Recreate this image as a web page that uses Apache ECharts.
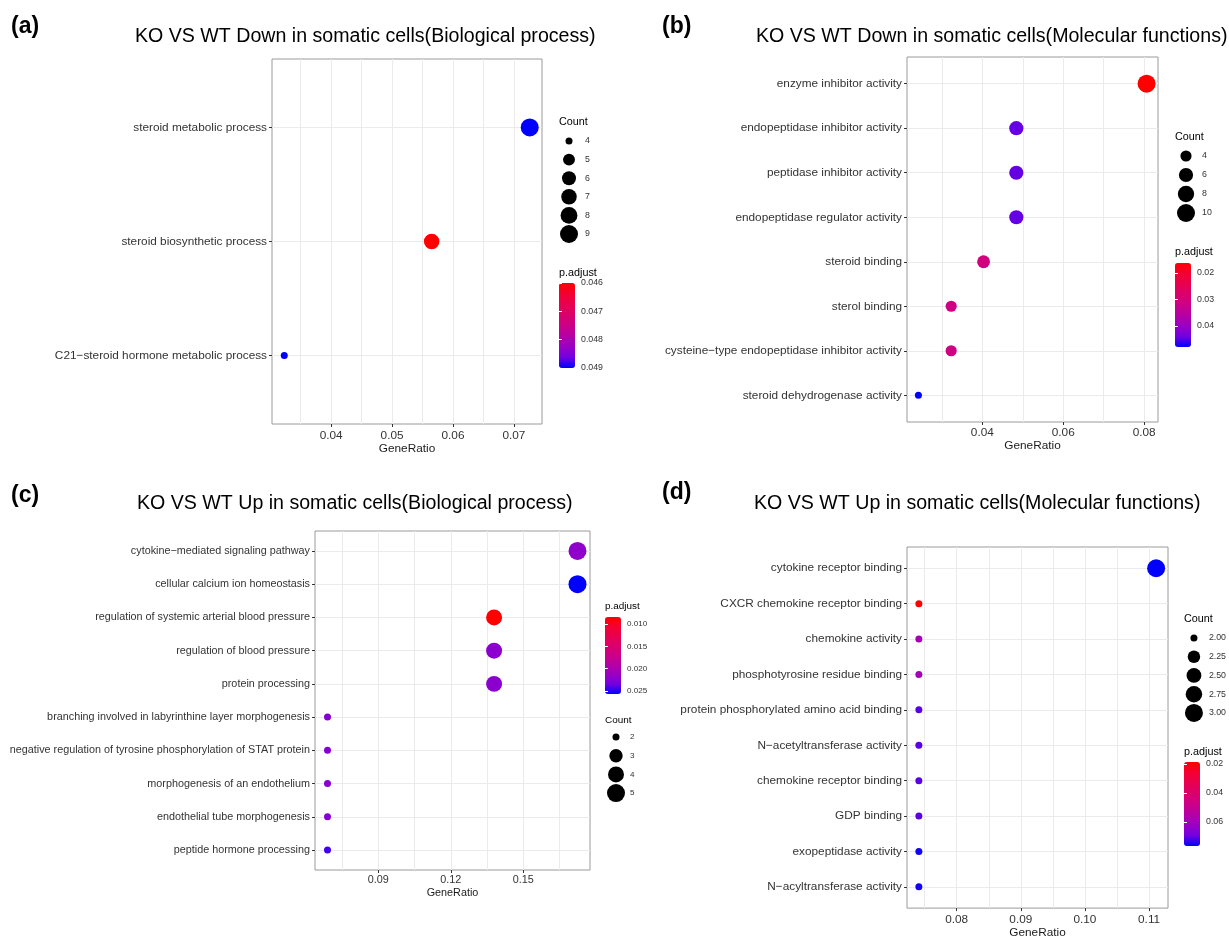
<!DOCTYPE html>
<html>
<head>
<meta charset="utf-8">
<script src="https://cdn.jsdelivr.net/npm/echarts@6/dist/echarts.min.js"></script>
<style>
  html, body { margin: 0; padding: 0; background: #fff; }
  #visualisation { width: 1229px; height: 940px; }
</style>
</head>
<body>
<div id="visualisation"></div>
<script>
// (a) Down, biological process
const termsA = ['steroid metabolic process', 'steroid biosynthetic process', 'C21−steroid hormone metabolic process'];
const ratioA = [0.0726, 0.0565, 0.0323];
const countA = [9, 7, 4];
const padjA = [0.0490, 0.0460, 0.0490];
const xTicksA = [0.04, 0.05, 0.06, 0.07];
const xMinorA = [0.035, 0.045, 0.055, 0.065];
const pTicksA = [0.046, 0.047, 0.048, 0.049];
const countBreaksA = [4, 5, 6, 7, 8, 9];

// (b) Down, molecular functions
const termsB = ['enzyme inhibitor activity', 'endopeptidase inhibitor activity', 'peptidase inhibitor activity',
  'endopeptidase regulator activity', 'steroid binding', 'sterol binding',
  'cysteine−type endopeptidase inhibitor activity', 'steroid dehydrogenase activity'];
const ratioB = [0.0806, 0.0484, 0.0484, 0.0484, 0.0403, 0.0323, 0.0323, 0.0242];
const countB = [10, 6, 6, 6, 5, 4, 4, 3];
const padjB = [0.0163, 0.0444, 0.0444, 0.0444, 0.0308, 0.0315, 0.0315, 0.0479];
const xTicksB = [0.04, 0.06, 0.08];
const xMinorB = [0.03, 0.05, 0.07];
const pTicksB = [0.02, 0.03, 0.04];
const countBreaksB = [4, 6, 8, 10];

// (c) Up, biological process
const termsC = ['cytokine−mediated signaling pathway', 'cellular calcium ion homeostasis',
  'regulation of systemic arterial blood pressure', 'regulation of blood pressure', 'protein processing',
  'branching involved in labyrinthine layer morphogenesis',
  'negative regulation of tyrosine phosphorylation of STAT protein', 'morphogenesis of an endothelium',
  'endothelial tube morphogenesis', 'peptide hormone processing'];
const ratioC = [0.1724, 0.1724, 0.1379, 0.1379, 0.1379, 0.0690, 0.0690, 0.0690, 0.0690, 0.0690];
const countC = [5, 5, 4, 4, 4, 2, 2, 2, 2, 2];
const padjC = [0.0220, 0.0257, 0.0084, 0.0222, 0.0222, 0.0225, 0.0225, 0.0225, 0.0225, 0.0245];
const xTicksC = [0.09, 0.12, 0.15];
const xMinorC = [0.075, 0.105, 0.135, 0.165];
const pTicksC = [0.010, 0.015, 0.020, 0.025];
const countBreaksC = [2, 3, 4, 5];

// (d) Up, molecular functions
const termsD = ['cytokine receptor binding', 'CXCR chemokine receptor binding', 'chemokine activity',
  'phosphotyrosine residue binding', 'protein phosphorylated amino acid binding', 'N−acetyltransferase activity',
  'chemokine receptor binding', 'GDP binding', 'exopeptidase activity', 'N−acyltransferase activity'];
const ratioD = [0.1111, 0.0741, 0.0741, 0.0741, 0.0741, 0.0741, 0.0741, 0.0741, 0.0741, 0.0741];
const countD = [3, 2, 2, 2, 2, 2, 2, 2, 2, 2];
const padjD = [0.0766, 0.0186, 0.0590, 0.0590, 0.0710, 0.0710, 0.0710, 0.0710, 0.0755, 0.0755];
const xTicksD = [0.08, 0.09, 0.10, 0.11];
const xMinorD = [0.075, 0.085, 0.095, 0.105];
const pTicksD = [0.02, 0.04, 0.06];
const countBreaksD = [2, 2.25, 2.5, 2.75, 3];

const FONT = '"Liberation Sans", Arial, Helvetica, sans-serif';
// red -> blue gradient, sampled in Lab like ggplot
const PADJ_COLORS = ['#FF0000', '#F40031', '#E8004F', '#DA006C', '#CC0088', '#B500A5', '#9A00C3', '#7300E0', '#0000FF'];
const TEXT_GREY = '#333333';

let option = {
  animation: false,
  backgroundColor: '#fff',
  textStyle: { fontFamily: FONT },
  title: [], grid: [], xAxis: [], yAxis: [], series: [], visualMap: []
};

function addText(str, x, cy, size, bold) {
  option.title.push({
    text: str, left: x, top: cy - size / 2, padding: 0,
    textStyle: { fontFamily: FONT, fontSize: size, fontWeight: bold ? 'bold' : 'normal', color: '#000' }
  });
}

function addPanel(p) {
  const n = p.terms.length;
  const s = p.scale;
  const [cmin, cmax] = [Math.min(...p.count), Math.max(...p.count)];
  const size = c => 7 + 11 * Math.sqrt(Math.max(0, (c - cmin) / (cmax - cmin)));
  const [rmin, rmax] = [Math.min(...p.ratio), Math.max(...p.ratio)];
  const pad = (rmax - rmin) * 0.05;
  const [pmin, pmax] = [Math.min(...p.padj), Math.max(...p.padj)];
  const idx = p.terms.map((t, i) => i);

  addText(p.letter, p.letterAt[0], p.letterAt[1], 23, true);
  addText(p.title, p.titleAt[0], p.titleAt[1], 19.6, false);
  addText('Count', p.legendX, p.countTitleY, 10.8 * s, false);
  addText('p.adjust', p.legendX, p.pTitleY, 10.8 * s, false);

  // main dot plot
  const g = option.grid.length;
  option.grid.push(Object.assign({ show: true, borderColor: '#9a9a9a', borderWidth: 1 }, p.box));
  const xa = option.xAxis.length;
  option.xAxis.push({
    gridIndex: g, type: 'value', position: 'bottom', min: rmin - pad, max: rmax + pad,
    axisLine: { show: false },
    axisTick: { show: false, customValues: p.xTicks.concat(p.xMinor) },
    axisLabel: { customValues: p.xTicks, formatter: v => v.toFixed(2), fontSize: p.fontSize, color: TEXT_GREY, margin: p.xLabelMargin },
    splitLine: { show: true, lineStyle: { color: '#ebebeb', width: 1 } },
    name: 'GeneRatio', nameLocation: 'middle', nameGap: p.nameGap,
    nameTextStyle: { fontSize: p.fontSize, color: '#1a1a1a' }
  });
  option.xAxis.push({
    gridIndex: g, type: 'value', position: 'bottom', min: rmin - pad, max: rmax + pad,
    axisLine: { show: false },
    axisTick: { show: true, length: 3, customValues: p.xTicks, lineStyle: { color: '#333' } },
    axisLabel: { show: false }, splitLine: { show: false }
  });
  const ya = option.yAxis.length;
  option.yAxis.push({
    gridIndex: g, type: 'value', min: -0.6, max: n - 0.4, inverse: true,
    axisLine: { show: false },
    axisTick: { show: true, length: 3, customValues: idx, lineStyle: { color: '#333' } },
    axisLabel: { customValues: idx, formatter: v => p.terms[Math.round(v)], fontSize: p.fontSize, color: TEXT_GREY, margin: p.yLabelMargin },
    splitLine: { show: true, lineStyle: { color: '#ebebeb', width: 1 } }
  });
  const sIdx = option.series.length;
  option.series.push({
    type: 'scatter', xAxisIndex: xa, yAxisIndex: ya,
    data: p.terms.map((t, i) => [p.ratio[i], i, p.padj[i], p.count[i]]),
    symbolSize: v => size(v[3]),
    itemStyle: { opacity: 1 }
  });
  option.visualMap.push({
    type: 'continuous', seriesIndex: sIdx, dimension: 2, min: pmin, max: pmax,
    inRange: { color: PADJ_COLORS }, inverse: true, calculable: false, hoverLink: false,
    left: p.bar.left, top: p.bar.top, itemWidth: 16, itemHeight: p.bar.height, padding: 0
  });

  // colour bar tick labels
  const gb = option.grid.length;
  option.grid.push({ left: p.bar.left, top: p.bar.top, width: 16, height: p.bar.height, show: false });
  const xb = option.xAxis.length;
  option.xAxis.push({ gridIndex: gb, type: 'value', min: 0, max: 1, show: false });
  const yb = option.yAxis.length;
  ['right', 'left'].forEach(pos => option.yAxis.push({
    gridIndex: gb, type: 'value', min: pmin, max: pmax, inverse: true, position: pos, z: 10,
    axisLine: { show: false },
    axisTick: { show: true, inside: true, length: 3, customValues: p.pTicks, lineStyle: { color: '#fff' } },
    axisLabel: { show: pos === 'right', customValues: p.pTicks, formatter: v => v.toFixed(p.pDigits), fontSize: 8.8 * s, color: TEXT_GREY, margin: 6 },
    splitLine: { show: false }
  }));
  option.series.push({ type: 'scatter', xAxisIndex: xb, yAxisIndex: yb, data: [] });

  // size legend
  const gc = option.grid.length;
  option.grid.push({ left: p.count0.cx - 8, top: p.count0.top, width: 16, height: p.count0.height, show: false });
  const xc = option.xAxis.length;
  option.xAxis.push({ gridIndex: gc, type: 'category', data: ['k'], show: false });
  const yc = option.yAxis.length;
  const labels = p.countBreaks.map(c => c.toFixed(p.countDigits));
  option.yAxis.push({
    gridIndex: gc, type: 'category', data: labels, inverse: true, position: 'right',
    axisLine: { show: false }, axisTick: { show: false }, splitLine: { show: false },
    axisLabel: { fontSize: 8.8 * s, color: TEXT_GREY, margin: p.count0.margin }
  });
  option.series.push({
    type: 'scatter', xAxisIndex: xc, yAxisIndex: yc,
    data: labels.map(l => ['k', l]),
    symbolSize: (v, params) => size(p.countBreaks[params.dataIndex]),
    itemStyle: { color: '#000', opacity: 1 }
  });
}

addPanel({
  letter: '(a)', letterAt: [11, 27], title: 'KO VS WT Down in somatic cells(Biological process)', titleAt: [135, 36],
  terms: termsA, ratio: ratioA, count: countA, padj: padjA, xTicks: xTicksA, xMinor: xMinorA,
  pTicks: pTicksA, pDigits: 3, countBreaks: countBreaksA, countDigits: 0,
  box: { left: 272, top: 59, width: 270, height: 365 }, fontSize: 11.8, scale: 1,
  xLabelMargin: 6, yLabelMargin: 5, nameGap: 19,
  legendX: 559, countTitleY: 122, pTitleY: 273,
  count0: { cx: 569, top: 131.7, height: 111.6, margin: 8 },
  bar: { left: 559, top: 283, height: 85 }
});
addPanel({
  letter: '(b)', letterAt: [662, 27], title: 'KO VS WT Down in somatic cells(Molecular functions)', titleAt: [756, 36],
  terms: termsB, ratio: ratioB, count: countB, padj: padjB, xTicks: xTicksB, xMinor: xMinorB,
  pTicks: pTicksB, pDigits: 2, countBreaks: countBreaksB, countDigits: 0,
  box: { left: 907, top: 57, width: 251, height: 365 }, fontSize: 11.8, scale: 1,
  xLabelMargin: 5, yLabelMargin: 5, nameGap: 18,
  legendX: 1175, countTitleY: 137, pTitleY: 252,
  count0: { cx: 1186, top: 146.5, height: 76, margin: 8 },
  bar: { left: 1175, top: 263, height: 84 }
});
addPanel({
  letter: '(c)', letterAt: [11, 496], title: 'KO VS WT Up in somatic cells(Biological process)', titleAt: [137, 503],
  terms: termsC, ratio: ratioC, count: countC, padj: padjC, xTicks: xTicksC, xMinor: xMinorC,
  pTicks: pTicksC, pDigits: 3, countBreaks: countBreaksC, countDigits: 0,
  box: { left: 315, top: 531, width: 275, height: 339 }, fontSize: 10.8, scale: 0.92,
  xLabelMargin: 5, yLabelMargin: 5, nameGap: 17.5,
  legendX: 605, countTitleY: 720, pTitleY: 606,
  count0: { cx: 616, top: 727.7, height: 74.7, margin: 6 },
  bar: { left: 605, top: 617, height: 77 }
});
addPanel({
  letter: '(d)', letterAt: [662, 493], title: 'KO VS WT Up in somatic cells(Molecular functions)', titleAt: [754, 503],
  terms: termsD, ratio: ratioD, count: countD, padj: padjD, xTicks: xTicksD, xMinor: xMinorD,
  pTicks: pTicksD, pDigits: 2, countBreaks: countBreaksD, countDigits: 2,
  box: { left: 907, top: 547, width: 261, height: 365 }, fontSize: 11.8, scale: 1,
  xLabelMargin: 6, yLabelMargin: 5, nameGap: 18,
  legendX: 1184, countTitleY: 619, pTitleY: 752,
  count0: { cx: 1195, top: 628.6, height: 93.75, margin: 8 },
  bar: { left: 1184, top: 762, height: 84 }
});

let visualisation = echarts.init(document.getElementById('visualisation'));
visualisation.setOption(option);
</script>
</body>
</html>
